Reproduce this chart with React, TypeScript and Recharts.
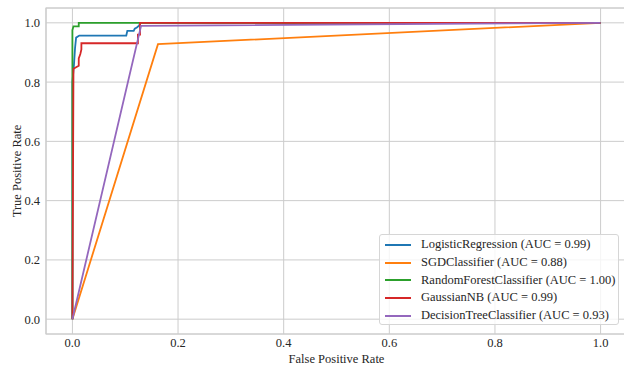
import React from "react";
import {
    LineChart,
    Line,
    XAxis,
    YAxis,
    CartesianGrid,
    ReferenceArea,
} from "recharts";

// ROC curve points (false positive rate / true positive rate)
const logRegFpr = [0, 0, 0.003, 0.005, 0.007, 0.013, 0.102, 0.104, 0.116, 0.118, 0.122, 0.126, 0.129, 1];
const logRegTpr = [0, 0.8, 0.86, 0.915, 0.95, 0.957, 0.957, 0.973, 0.973, 0.98, 0.984, 0.99, 1, 1];

const sgdFpr = [0, 0.162, 1];
const sgdTpr = [0, 0.928, 1];

const forestFpr = [0, 0, 0.002, 0.012, 0.012, 1];
const forestTpr = [0, 0.975, 0.988, 0.988, 1, 1];

const gaussianFpr = [0, 0.002, 0.012, 0.012, 0.015, 0.017, 0.017, 0.124, 0.124, 0.128, 0.128, 1];
const gaussianTpr = [0, 0.845, 0.855, 0.88, 0.895, 0.91, 0.931, 0.931, 0.96, 0.96, 1, 1];

const treeFpr = [0, 0.13, 1];
const treeTpr = [0, 0.99, 1];

const seriesNames = [
    "LogisticRegression (AUC = 0.99)",
    "SGDClassifier (AUC = 0.88)",
    "RandomForestClassifier (AUC = 1.00)",
    "GaussianNB (AUC = 0.99)",
    "DecisionTreeClassifier (AUC = 0.93)",
];
const seriesColors = ["#1f77b4", "#ff7f0e", "#2ca02c", "#d62728", "#9467bd"];

const axisTicks = [0, 0.2, 0.4, 0.6, 0.8, 1.0];

const toPoints = (fpr: number[], tpr: number[]) =>
    fpr.map((x, i) => ({ x, y: tpr[i] }));

const series = [
    toPoints(logRegFpr, logRegTpr),
    toPoints(sgdFpr, sgdTpr),
    toPoints(forestFpr, forestTpr),
    toPoints(gaussianFpr, gaussianTpr),
    toPoints(treeFpr, treeTpr),
];

const font = "'Liberation Serif', 'Times New Roman', serif";
const textColor = "#262626";

function YLabel() {
    return (
        <text
            x={17}
            y={171}
            transform="rotate(-90, 17, 171)"
            textAnchor="middle"
            dominantBaseline="central"
            fontFamily={font}
            fontSize={12.5}
            fill={textColor}
        >
            True Positive Rate
        </text>
    );
}

export default function App() {
    return (
        <div
            style={{
                position: "absolute",
                left: 0,
                top: 0,
                width: 624,
                height: 366,
                overflow: "hidden",
                background: "#fff",
            }}
        >
            <LineChart
                width={627}
                height={366}
                margin={{ top: 8, right: 0, bottom: 0, left: 0 }}
            >
                <CartesianGrid stroke="#cccccc" strokeWidth={1} />
                <XAxis
                    dataKey="x"
                    type="number"
                    domain={[-0.05, 1.05]}
                    ticks={axisTicks}
                    tickFormatter={(v: number) => v.toFixed(1)}
                    height={32}
                    tickLine={false}
                    axisLine={false}
                    tickSize={0}
                    tickMargin={4}
                    tick={{ fill: textColor, fontFamily: font, fontSize: 12.5 }}
                    label={{
                        value: "False Positive Rate",
                        position: "insideBottom",
                        offset: 3,
                        fill: textColor,
                        fontFamily: font,
                        fontSize: 12.5,
                    }}
                />
                <YAxis
                    type="number"
                    domain={[-0.05, 1.05]}
                    ticks={axisTicks}
                    tickFormatter={(v: number) => v.toFixed(1)}
                    width={46}
                    tickLine={false}
                    axisLine={false}
                    tickSize={0}
                    tickMargin={6}
                    tick={{ fill: textColor, fontFamily: font, fontSize: 12.5 }}
                    label={<YLabel />}
                />
                <ReferenceArea
                    x1={-0.05}
                    x2={1.05}
                    y1={-0.05}
                    y2={1.05}
                    fill="none"
                    stroke="#cccccc"
                    strokeWidth={1.2}
                />
                {series.map((pts, i) => (
                    <Line
                        key={seriesNames[i]}
                        data={pts}
                        dataKey="y"
                        type="linear"
                        stroke={seriesColors[i]}
                        strokeWidth={1.8}
                        dot={false}
                        activeDot={false}
                        isAnimationActive={false}
                    />
                ))}
            </LineChart>
            <div
                style={{
                    position: "absolute",
                    left: 379,
                    top: 234,
                    width: 240,
                    height: 91,
                    border: "1px solid #d6d6d6",
                    borderRadius: 3,
                    background: "rgba(255,255,255,0.8)",
                    boxSizing: "border-box",
                    paddingTop: 1,
                }}
            >
                {seriesNames.map((name, i) => (
                    <div
                        key={name}
                        style={{
                            display: "flex",
                            alignItems: "center",
                            height: 17.7,
                            fontFamily: font,
                            fontSize: 12.5,
                            color: textColor,
                            whiteSpace: "nowrap",
                        }}
                    >
                        <span
                            style={{
                                display: "inline-block",
                                width: 26,
                                height: 2,
                                marginLeft: 5,
                                marginRight: 10,
                                background: seriesColors[i],
                            }}
                        />
                        {name}
                    </div>
                ))}
            </div>
        </div>
    );
}
